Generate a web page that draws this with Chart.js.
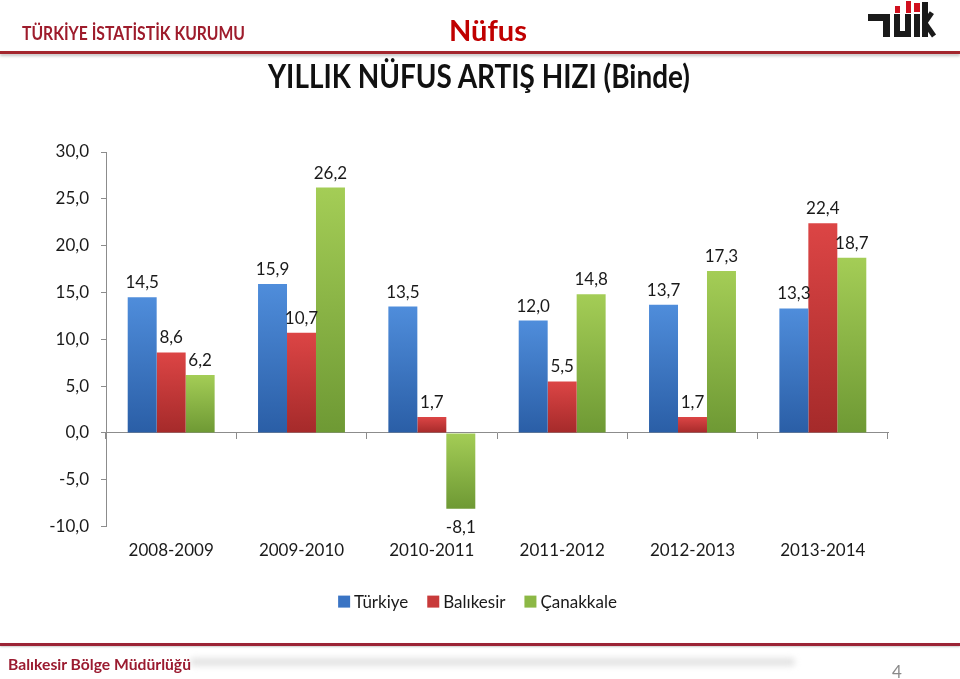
<!DOCTYPE html>
<html>
<head>
<meta charset="utf-8">
<script src="https://cdn.jsdelivr.net/npm/chart.js@4.4.1/dist/chart.umd.min.js"></script>
<style>
  html, body { margin: 0; padding: 0; background: #fff; }
  body { width: 960px; height: 679px; position: relative; overflow: hidden; font-family: Lato, "Open Sans", sans-serif; }
  #wrap { position: absolute; left: 0; top: 0; width: 960px; height: 679px; }
  .abs { position: absolute; white-space: nowrap; }
  .fit { display: inline-block; transform-origin: left center; }
  .blk { position: absolute; background: #1a1a1a; }
  .red { position: absolute; background: #d0101e; }
</style>
</head>
<body>
<div id="wrap"><canvas id="c" width="960" height="679"></canvas></div>

<div class="abs" style="left:22px; top:21px; height:24px; line-height:24px;">
  <span class="fit" data-w="223" style="font-weight:700; font-size:19px; color:#9e1c2c;">TÜRKİYE İSTATİSTİK KURUMU</span>
</div>
<div class="abs" style="left:449px; top:12px; height:36px; line-height:36px;">
  <span class="fit" data-w="78" style="font-weight:700; font-size:29px; color:#c00000;">Nüfus</span>
</div>
<div class="abs" style="left:0; top:51px; width:960px; height:3px; background:#a3262e; box-shadow:0 2px 3px rgba(0,0,0,0.25);"></div>
<div class="abs" style="left:268px; top:56px; height:40px; line-height:40px;">
  <span class="fit" data-w="422" style="font-weight:700; font-size:32px; color:#111;">YILLIK NÜFUS ARTIŞ HIZI (Binde)</span>
</div>

<!-- logo -->
<div class="blk" style="left:868px; top:14px; width:22px; height:7px;"></div>
<div class="blk" style="left:883px; top:14px; width:7px; height:23px;"></div>
<div class="blk" style="left:894px; top:14px; width:6px; height:23px;"></div>
<div class="blk" style="left:894px; top:31px; width:17px; height:6px;"></div>
<div class="blk" style="left:905px; top:14px; width:6px; height:23px;"></div>
<div class="red" style="left:895px; top:6px; width:5px; height:7px;"></div>
<div class="red" style="left:906px; top:1px; width:5px; height:12px;"></div>
<div class="blk" style="left:914px; top:14px; width:6px; height:23px;"></div>
<div class="red" style="left:914px; top:3px; width:6px; height:9px;"></div>
<div class="blk" style="left:922px; top:2px; width:6px; height:35px;"></div>
<div class="blk" style="left:925px; top:20px; width:12px; height:5px; transform:rotate(-55deg); transform-origin:left center;"></div>
<div class="blk" style="left:926px; top:22px; width:14px; height:5px; transform:rotate(55deg); transform-origin:left center;"></div>

<!-- footer -->
<div class="abs" style="left:0; top:643px; width:960px; height:3px; background:#9b2335; box-shadow:0 1px 2px rgba(0,0,0,0.2);"></div>
<div class="abs" style="left:190px; top:658px; width:605px; height:8px; background:#e2e2e2; filter:blur(3px); border-radius:4px;"></div>
<div class="abs" style="left:8px; top:654px; height:20px; line-height:20px;">
  <span class="fit" data-w="183" style="font-weight:700; font-size:15px; color:#9b1b30;">Balıkesir Bölge Müdürlüğü</span>
</div>
<div class="abs" style="left:892px; top:662px; font-size:17px; color:#8a8a8a; line-height:20px;">4</div>

<script>
// ---- data ----
const categories = ['2008-2009', '2009-2010', '2010-2011', '2011-2012', '2012-2013', '2013-2014'];
const seriesNames = ['Türkiye', 'Balıkesir', 'Çanakkale'];
const turkiye   = [14.5, 15.9, 13.5, 12.0, 13.7, 13.3];
const balikesir = [8.6, 10.7, 1.7, 5.5, 1.7, 22.4];
const canakkale = [6.2, 26.2, -8.1, 14.8, 17.3, 18.7];
const yTicks = [-10, -5, 0, 5, 10, 15, 20, 25, 30];

// fit header texts to measured widths
document.querySelectorAll('.fit').forEach(el => {
  const w = el.getBoundingClientRect().width;
  const target = +el.dataset.w;
  el.style.transform = 'scaleX(' + (target / w) + ')';
});

const palette = [
  { top: '#4f8ddb', bot: '#2a5ea6', solid: '#3a74c4' },
  { top: '#dc4545', bot: '#a52a2a', solid: '#c83a3a' },
  { top: '#a4cd56', bot: '#6e9934', solid: '#8cb845' }
];

function gradFor(idx) {
  return function (ctx) {
    const chart = ctx.chart;
    const p = palette[idx];
    if (!chart.chartArea || ctx.type !== 'data') return p.solid;
    const ys = chart.scales.y;
    const v = ctx.raw;
    const a = ys.getPixelForValue(0), b = ys.getPixelForValue(v);
    const top = Math.min(a, b), bot = Math.max(a, b);
    if (bot - top < 1) return p.solid;
    const g = chart.ctx.createLinearGradient(0, top, 0, bot);
    g.addColorStop(0, p.top);
    g.addColorStop(1, p.bot);
    return g;
  };
}

const fmt = v => v.toFixed(1).replace('.', ',');
const FONT = 'Lato, "Open Sans", sans-serif';

const valueLabels = {
  id: 'valueLabels',
  afterDatasetsDraw(chart) {
    const ctx = chart.ctx;
    ctx.save();
    ctx.font = '17px ' + FONT;
    ctx.fillStyle = '#1a1a1a';
    ctx.textAlign = 'center';
    chart.data.datasets.forEach((ds, di) => {
      const meta = chart.getDatasetMeta(di);
      meta.data.forEach((bar, i) => {
        const v = ds.data[i];
        if (v >= 0) {
          ctx.textBaseline = 'bottom';
          ctx.fillText(fmt(v), bar.x, bar.y - 6);
        } else {
          ctx.textBaseline = 'top';
          ctx.fillText(fmt(v), bar.x, bar.y + 10);
        }
      });
    });
    ctx.restore();
  }
};

// legend drawn in canvas, centred below the category labels
const bottomLegend = {
  id: 'bottomLegend',
  afterDraw(chart) {
    const ctx = chart.ctx;
    ctx.save();
    ctx.font = '17px ' + FONT;
    ctx.textBaseline = 'middle';
    ctx.textAlign = 'left';
    const box = 12, gapText = 4, gapItem = 19;
    const items = chart.data.datasets.map((ds, i) => ({ text: ds.label, color: palette[i].solid, w: ctx.measureText(ds.label).width }));
    const total = items.reduce((s, it) => s + box + gapText + it.w, 0) + gapItem * (items.length - 1);
    const cx = (chart.chartArea.left + chart.chartArea.right) / 2 - 19.5;
    const cy = chart.chartArea.bottom + 75;
    let x = cx - total / 2;
    items.forEach(it => {
      ctx.fillStyle = it.color;
      ctx.fillRect(x, cy - box / 2, box, box);
      x += box + gapText;
      ctx.fillStyle = '#1a1a1a';
      ctx.fillText(it.text, x, cy + 1);
      x += it.w + gapItem;
    });
    ctx.restore();
  }
};

const data = {
  labels: categories,
  datasets: [turkiye, balikesir, canakkale].map((arr, i) => ({
    label: seriesNames[i],
    data: arr,
    backgroundColor: gradFor(i),
    borderWidth: 0,
    categoryPercentage: 0.667,
    barPercentage: 1.0,
    xAxisID: 'x'
  }))
};

new Chart(document.getElementById('c'), {
  type: 'bar',
  data,
  plugins: [valueLabels, bottomLegend],
  options: {
    responsive: false,
    animation: false,
    events: [],
    layout: { padding: { top: 152, left: 0, right: 72, bottom: 104 } },
    plugins: {
      tooltip: { enabled: false },
      legend: { display: false }
    },
    scales: {
      x: {
        type: 'category',
        position: 'bottom',
        grid: { display: false, drawTicks: false },
        border: { display: false },
        ticks: { font: { family: FONT, size: 17 }, color: '#1a1a1a', padding: 14, maxRotation: 0 }
      },
      x2: {
        type: 'category',
        labels: categories,
        position: { y: 0 },
        offset: true,
        grid: { display: true, drawOnChartArea: false, drawTicks: true, tickLength: 6, color: '#8c8c8c', offset: true },
        border: { display: true, color: '#8c8c8c', width: 1 },
        ticks: { display: false }
      },
      y: {
        min: -10,
        max: 30,
        afterBuildTicks(scale) { scale.ticks = yTicks.map(v => ({ value: v })); },
        afterFit(scale) { scale.width = 106; },
        grid: { display: true, drawOnChartArea: false, drawTicks: true, tickLength: 5, color: '#8c8c8c' },
        border: { display: true, color: '#8c8c8c', width: 1 },
        ticks: {
          font: { family: FONT, size: 17 },
          color: '#1a1a1a',
          padding: 12,
          callback: v => fmt(v)
        }
      }
    }
  }
});
</script>
</body>
</html>
